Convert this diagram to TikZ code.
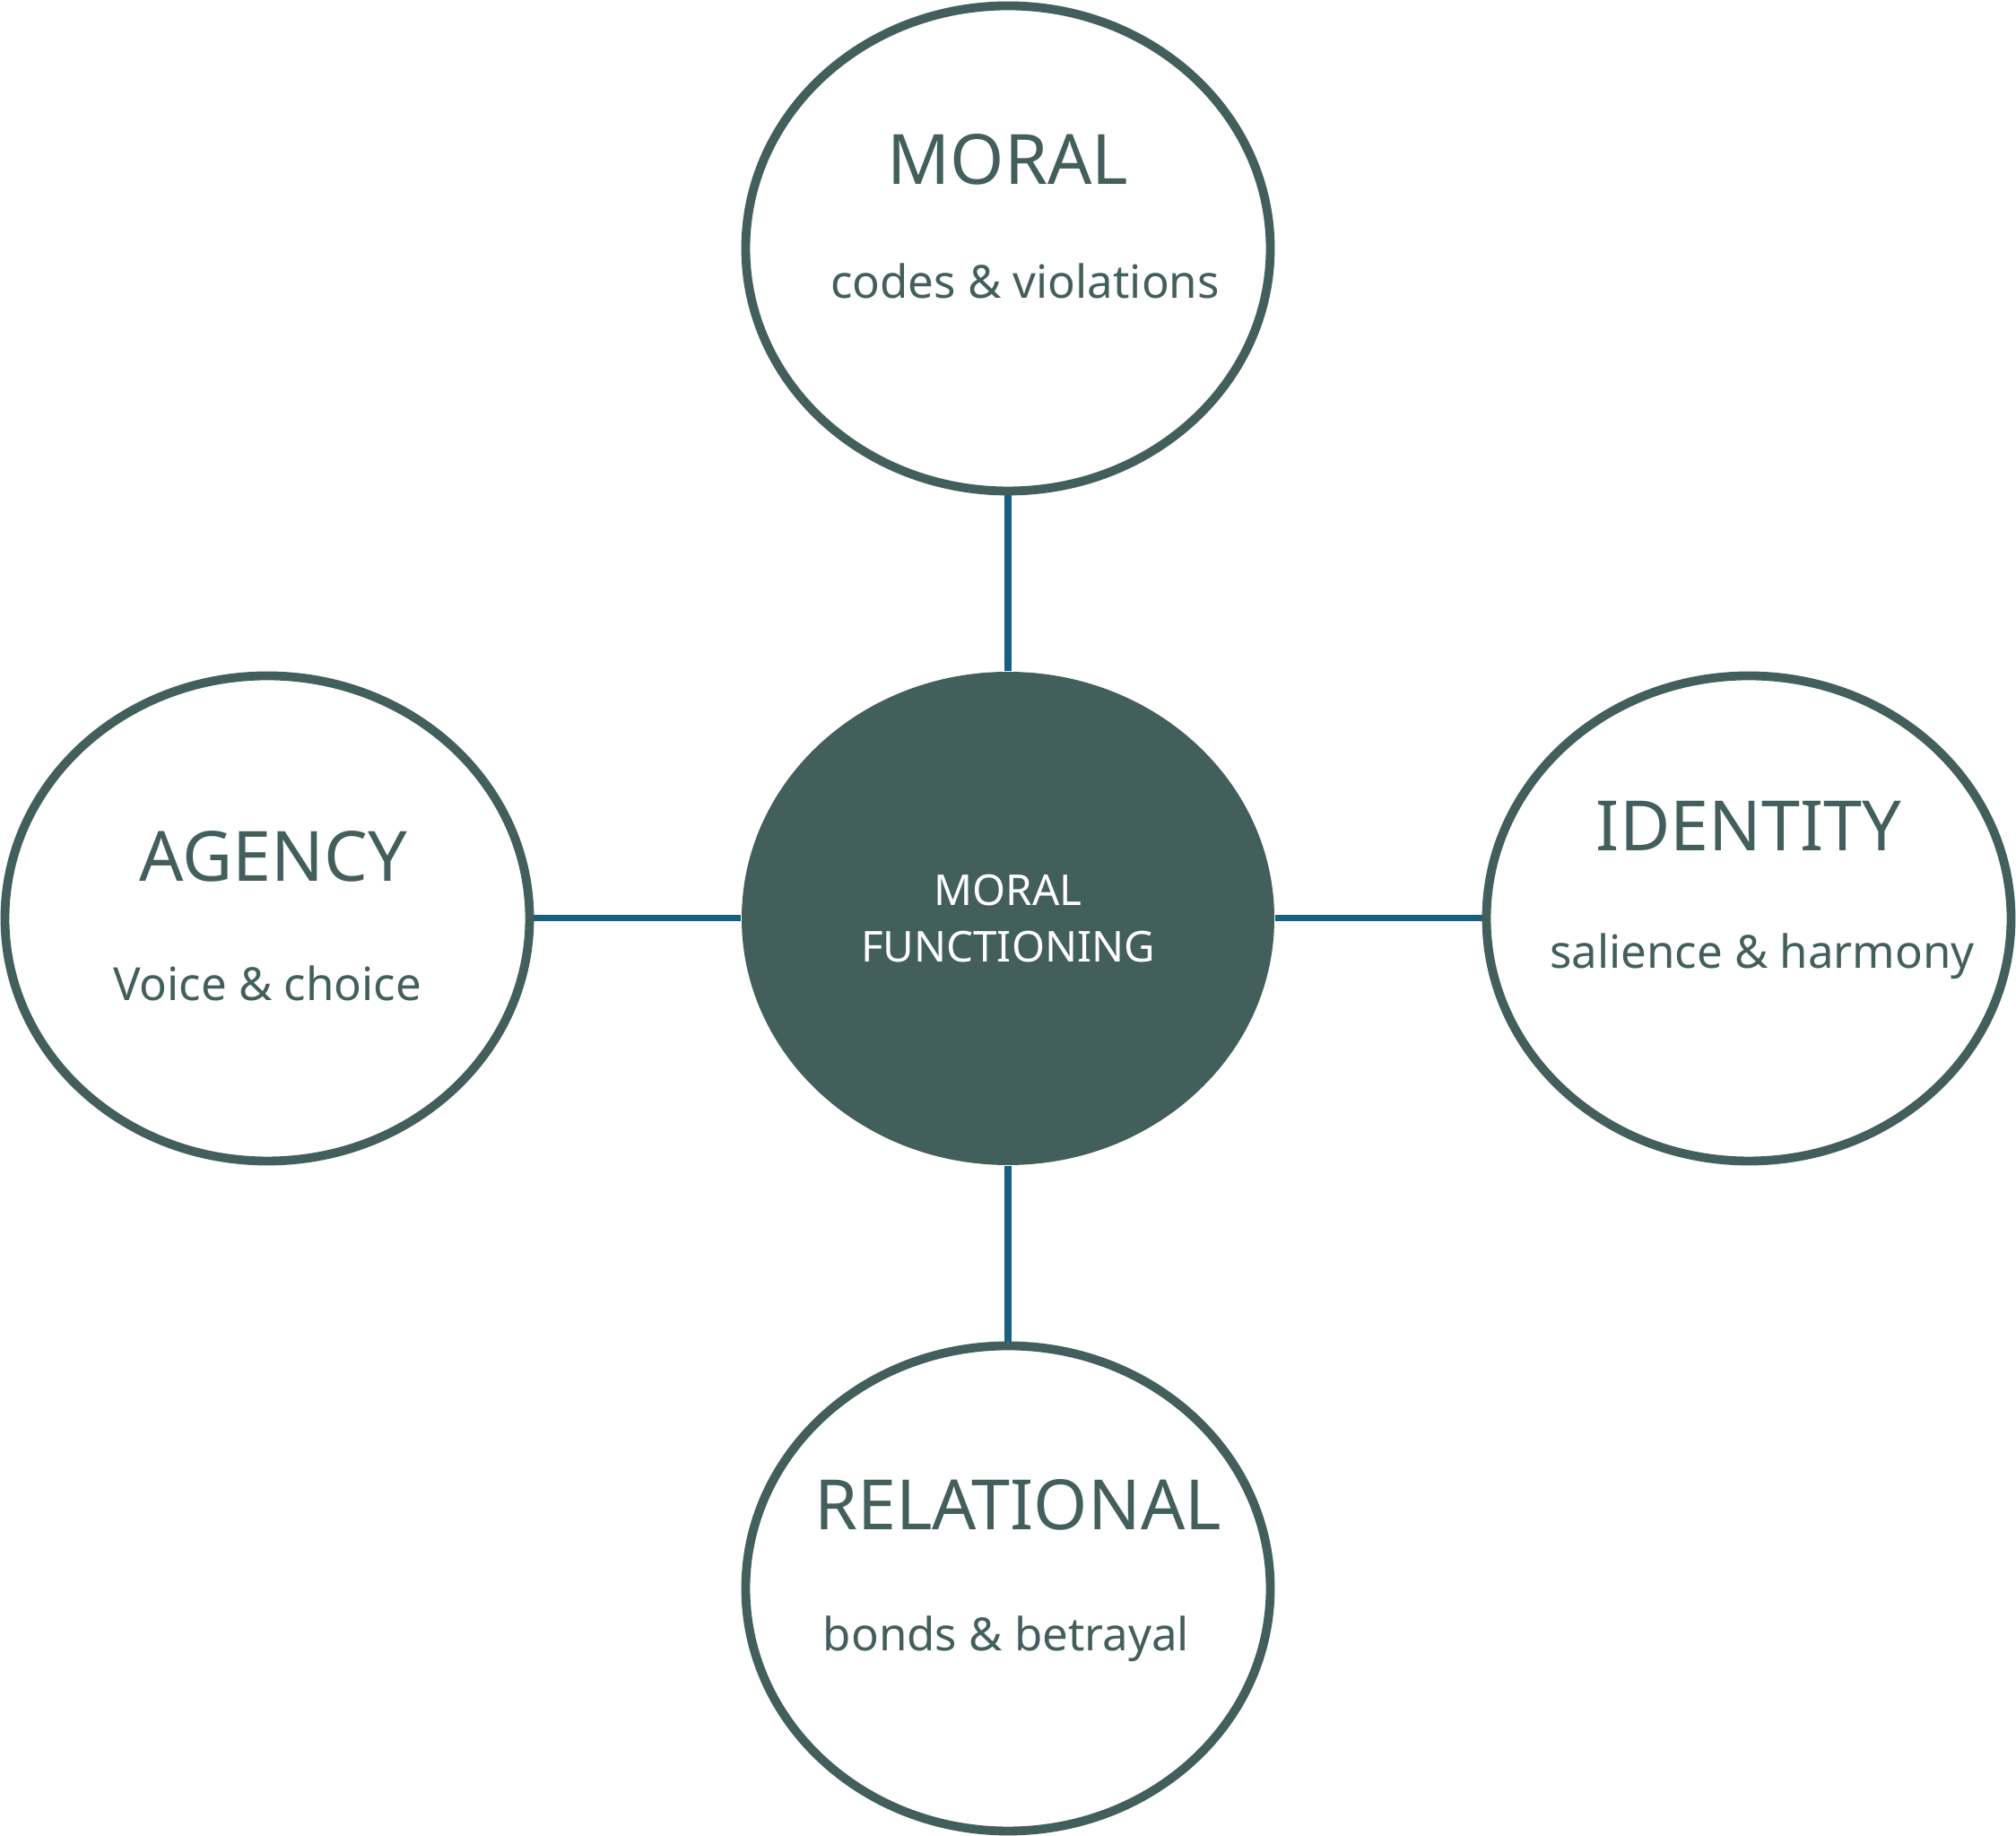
\documentclass[tikz,border=0pt]{standalone}
\usepackage{fontspec}
\setmainfont{Noto Sans}
\usetikzlibrary{positioning,shapes.geometric}
\definecolor{slate}{RGB}{67,95,91}
\definecolor{linkblue}{RGB}{22,96,128}

\begin{document}
\begin{tikzpicture}[node distance=7.47cm and 8.26cm,on grid,
    bubble/.style={ellipse,draw=slate,line width=2.8pt,fill=white,
      minimum width=5.85cm,minimum height=5.41cm,inner sep=0pt},
    core/.style={ellipse,fill=slate,text=white,align=center,inner sep=0pt,
      minimum width=5.94cm,minimum height=5.5cm,
      font=\fontsize{13.5}{18}\selectfont},
    title/.style={text=slate,font=\fontsize{22}{26}\selectfont},
    sub/.style={text=slate,text depth=0pt,font=\fontsize{14.5}{17}\selectfont},
    link/.style={draw=linkblue,line width=2pt}]
   \useasboundingbox (0,0) rectangle (22.48,20.47);
   \node [core] (mf) at (11.24,10.23) {MORAL\\FUNCTIONING};
   \node [bubble, above=of mf] (moral) {};
   \node [bubble, below=of mf] (relational) {};
   \node [bubble, left=of mf] (agency) {};
   \node [bubble, right=of mf] (identity) {};
   % labels inside the bubbles
   \node [title] (moral_t) at ([shift={(0,0.99)}]moral) {MORAL};
   \node [sub] (moral_s) at ([shift={(0.19,-0.36)}]moral) {codes \& violations};
   \node [title] (agency_t) at ([shift={(0.07,0.69)}]agency) {AGENCY};
   \node [sub] (agency_s) at ([shift={(0,-0.72)}]agency) {Voice \& choice};
   \node [title] (identity_t) at ([shift={(0,1.03)}]identity) {IDENTITY};
   \node [sub] (identity_s) at ([shift={(0.15,-0.36)}]identity) {salience \& harmony};
   \node [title] (relational_t) at ([shift={(0.11,0.93)}]relational) {RELATIONAL};
   \node [sub] (relational_s) at ([shift={(-0.02,-0.5)}]relational) {bonds \& betrayal};
    \path[link]
    (mf) edge (moral)
         edge (relational)
         edge (agency)
         edge (identity);
\end{tikzpicture}
\end{document}
